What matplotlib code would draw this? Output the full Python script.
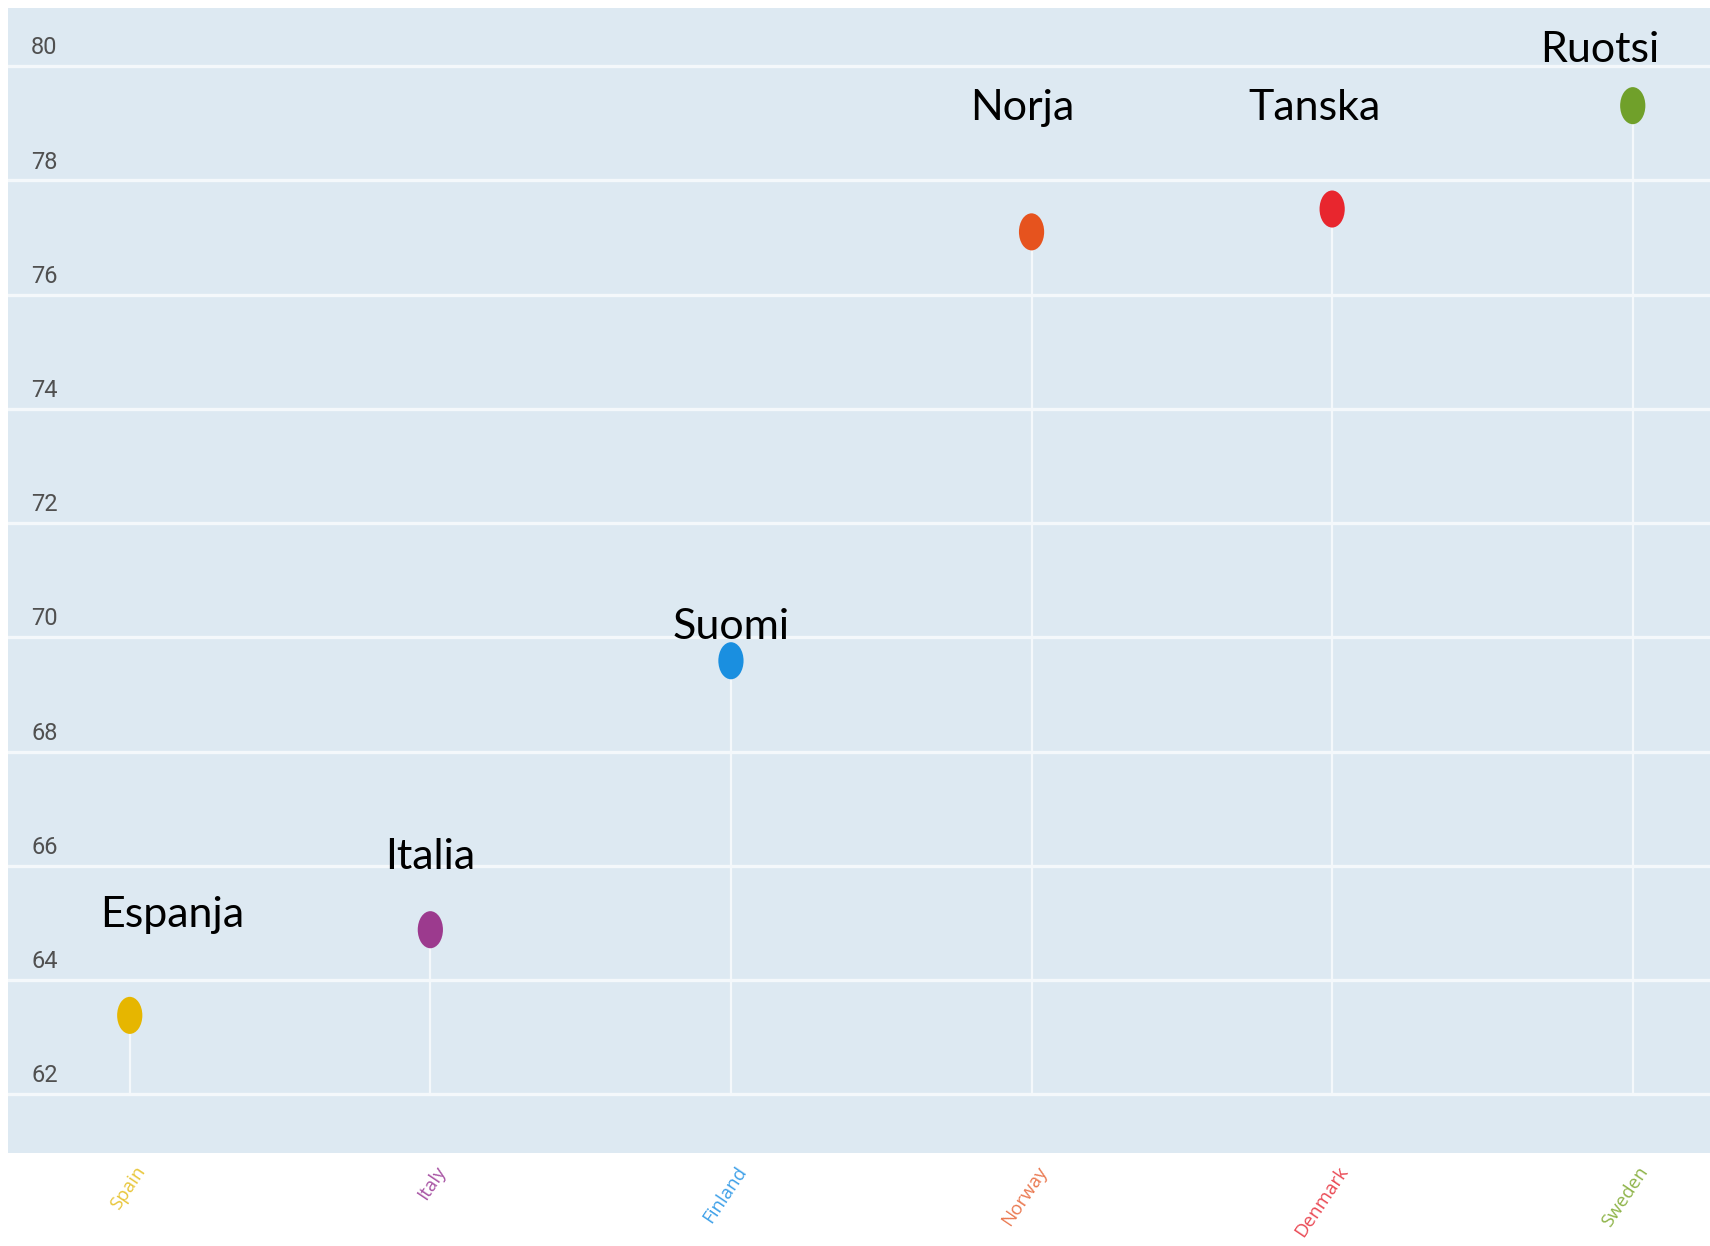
import matplotlib
matplotlib.use("Agg")
import matplotlib.pyplot as plt
import matplotlib.transforms as mtransforms
from matplotlib.path import Path
import numpy as np

# ---- data ----
countries_en = ["Spain", "Italy", "Finland", "Norway", "Denmark", "Sweden"]
countries_fi = ["Espanja", "Italia", "Suomi", "Norja", "Tanska", "Ruotsi"]
values = [63.38, 64.88, 69.59, 77.10, 77.50, 79.31]
colors = ["#e6b600", "#9c3a8e", "#1a8fe0", "#e6531e", "#e8262e", "#70a02a"]
label_colors = ["#e8c63a", "#a854a4", "#3ea0e8", "#ea7a52", "#ea4a55", "#8fb44a"]
y_ticks = [62, 64, 66, 68, 70, 72, 74, 76, 78, 80]
# annotation placement (data units): x offset from category, baseline y
annot_dx = [0.14, 0.0, 0.0, -0.03, -0.06, -0.11]
annot_y = [64.93, 65.94, 69.97, 79.06, 79.06, 80.08]

W, H, DPI = 1710, 1246, 100
fig = plt.figure(figsize=(W / DPI, H / DPI), dpi=DPI)
fig.patch.set_facecolor("white")
ax = fig.add_axes([8 / W, 1 - 1153 / H, 1 - 8 / W, (1153 - 8) / H])
ax.set_facecolor("#dde9f2")
for s in ax.spines.values():
    s.set_visible(False)

x = np.arange(len(countries_en))
ax.set_xlim(-0.405, 5.257)
ax.set_ylim(60.97, 81.02)

grid_c = "#f4f8fb"
for yt in y_ticks:
    ax.axhline(yt, color=grid_c, lw=2.4, zorder=1)

# stems
ax.vlines(x, y_ticks[0], values, color=grid_c, lw=1.6, zorder=2)

# elliptical markers
circ = Path.unit_circle()
ell = Path(circ.vertices * np.array([0.68, 1.0]), circ.codes)
ax.scatter(x, values, s=36 ** 2 * 0.55, marker=ell, c=colors, edgecolors="none", zorder=3)

# y tick labels above grid lines
ax.set_yticks([])
ax.set_xticks([])
trans_y = mtransforms.blended_transform_factory(ax.transAxes, ax.transData)
off = mtransforms.offset_copy(trans_y, fig=fig, x=0, y=5, units="points")
for yt in y_ticks:
    ax.text((31 - 8) / (W - 8), yt, str(yt), transform=off, ha="left", va="bottom",
            fontsize=17, color="#505050", family="Roboto", fontstretch="condensed")

# x labels
trans_x = mtransforms.blended_transform_factory(ax.transData, fig.transFigure)
for xi, name, c in zip(x, countries_en, label_colors):
    ax.text(xi + 0.04, 1 - 1168 / H, name, transform=trans_x, rotation=56,
            rotation_mode="anchor", ha="right", va="center", fontsize=13.5,
            color=c, family="Open Sans", clip_on=False)

# Finnish annotations
for xi, dx, ly, name in zip(x, annot_dx, annot_y, countries_fi):
    ax.text(xi + dx, ly, name, ha="center", va="baseline", fontsize=31,
            family="Lato", color="black", zorder=4)

fig.savefig("out.png", dpi=DPI)
